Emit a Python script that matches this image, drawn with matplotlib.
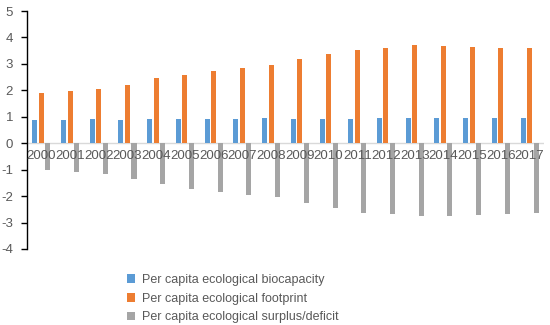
import numpy as np
import matplotlib
matplotlib.use("Agg")
import matplotlib.pyplot as plt

years = [str(y) for y in range(2000, 2018)]
biocapacity = [0.88, 0.88, 0.92, 0.88, 0.92, 0.92, 0.92, 0.92, 0.95,
               0.93, 0.93, 0.93, 0.95, 0.95, 0.95, 0.95, 0.95, 0.95]
footprint = [1.90, 1.97, 2.06, 2.20, 2.45, 2.59, 2.73, 2.86, 2.95,
             3.20, 3.38, 3.53, 3.62, 3.71, 3.68, 3.65, 3.62, 3.60]
surplus = [-1.03, -1.09, -1.17, -1.34, -1.54, -1.72, -1.84, -1.96, -2.05,
           -2.26, -2.44, -2.63, -2.69, -2.77, -2.74, -2.72, -2.69, -2.63]
labels = ["Per capita ecological biocapacity",
          "Per capita ecological footprint",
          "Per capita ecological surplus/deficit"]
colors = ["#5B9BD5", "#ED7D31", "#A5A5A5"]

plt.rcParams["font.family"] = ["Liberation Sans", "DejaVu Sans"]
plt.rcParams["axes.unicode_minus"] = False
text_color = "#595959"

fig = plt.figure(figsize=(5.5, 3.25), dpi=100)
ax = fig.add_axes([0.049, 0.234, 0.94, 0.732])

x = np.arange(len(years))
w = 0.175
off = 0.227
for i, (vals, lab, c) in enumerate(zip([biocapacity, footprint, surplus], labels, colors)):
    ax.bar(x + (i - 1) * off, vals, width=w, color=c, label=lab, zorder=2)

ax.set_xlim(-0.5, len(years) - 0.5)
ax.set_ylim(-4, 5)
ax.set_yticks(range(-4, 6))
ax.set_xticks(x)
ax.set_xticklabels([])

for s in ["top", "right", "bottom"]:
    ax.spines[s].set_visible(False)
ax.spines["left"].set_color("black")
ax.spines["left"].set_linewidth(1.0)
ax.axhline(0, color="#D9D9D9", linewidth=1.0, zorder=1)

ax.tick_params(axis="y", direction="out", length=4, width=1, color="black",
               labelsize=9.5, labelcolor=text_color, pad=6)
ax.tick_params(axis="x", length=0)

# year labels sit right under the zero line, over the grey bars
for xi, yr in zip(x, years):
    ax.text(xi, -0.25, yr, ha="center", va="top", fontsize=9.5,
            color=text_color, zorder=3)

fig.legend(loc="upper left", bbox_to_anchor=(0.23, 0.158), frameon=False,
           fontsize=9, labelcolor=text_color, handlelength=0.7,
           handleheight=0.7, handletextpad=0.5, labelspacing=0.55,
           borderaxespad=0, borderpad=0)

fig.savefig("out.png", dpi=100)
